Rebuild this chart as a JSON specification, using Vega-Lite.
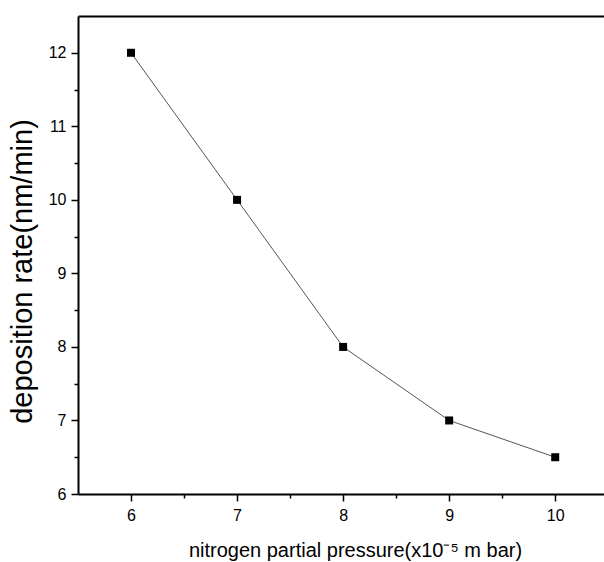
{
  "$schema": "https://vega.github.io/schema/vega-lite/v6.json",
  "width": 526,
  "height": 478,
  "autosize": "none",
  "padding": {"left": 78, "top": 16, "right": 0, "bottom": 68},
  "background": "white",
  "data": {"values": [
    {"p": 6, "rate": 12},
    {"p": 7, "rate": 10},
    {"p": 8, "rate": 8},
    {"p": 9, "rate": 7},
    {"p": 10, "rate": 6.5}
  ]},
  "config": {
    "view": {"stroke": null},
    "font": "Liberation Sans",
    "axis": {
      "domainColor": "black",
      "domainWidth": 2,
      "tickColor": "black",
      "tickWidth": 1.5,
      "labelColor": "black",
      "labelFont": "Liberation Sans",
      "titleFont": "Liberation Sans",
      "titleFontWeight": "normal",
      "titleColor": "black",
      "grid": false
    }
  },
  "layer": [
    {
      "mark": {"type": "line", "color": "#555555", "strokeWidth": 1},
      "encoding": {
        "x": {"field": "p", "type": "quantitative", "scale": {"domain": [5.5, 10.46], "nice": false, "zero": false},
          "axis": {"orient": "bottom", "values": [6, 7, 8, 9, 10], "tickSize": 7, "labelPadding": 6, "labelFontSize": 16, "title": "nitrogen partial pressure(x10⁻⁵ m bar)", "titleFontSize": 20, "titlePadding": 17, "titleX": 277}},
        "y": {"field": "rate", "type": "quantitative", "scale": {"domain": [6, 12.5], "nice": false, "zero": false},
          "axis": {"orient": "left", "values": [6, 7, 8, 9, 10, 11, 12], "tickSize": 7, "labelPadding": 5, "labelFontSize": 16, "title": "deposition rate(nm/min)", "titleFontSize": 29, "titlePadding": 11, "titleY": 255}}
      }
    },
    {
      "mark": {"type": "square", "color": "black", "size": 64, "opacity": 1},
      "encoding": {
        "x": {"field": "p", "type": "quantitative",
          "axis": {"orient": "bottom", "values": [6.5, 7.5, 8.5, 9.5, 10.5], "tickSize": 4, "labels": false, "title": null, "domain": false}},
        "y": {"field": "rate", "type": "quantitative",
          "axis": {"orient": "left", "values": [6.5, 7.5, 8.5, 9.5, 10.5, 11.5], "tickSize": 4, "labels": false, "title": null, "domain": false}}
      }
    },
    {
      "mark": {"type": "point", "opacity": 0},
      "encoding": {
        "x": {"field": "p", "type": "quantitative",
          "axis": {"orient": "top", "ticks": false, "labels": false, "title": null, "domain": true}},
        "y": {"field": "rate", "type": "quantitative", "axis": null}
      }
    }
  ],
  "resolve": {"axis": {"x": "independent", "y": "independent"}}
}
